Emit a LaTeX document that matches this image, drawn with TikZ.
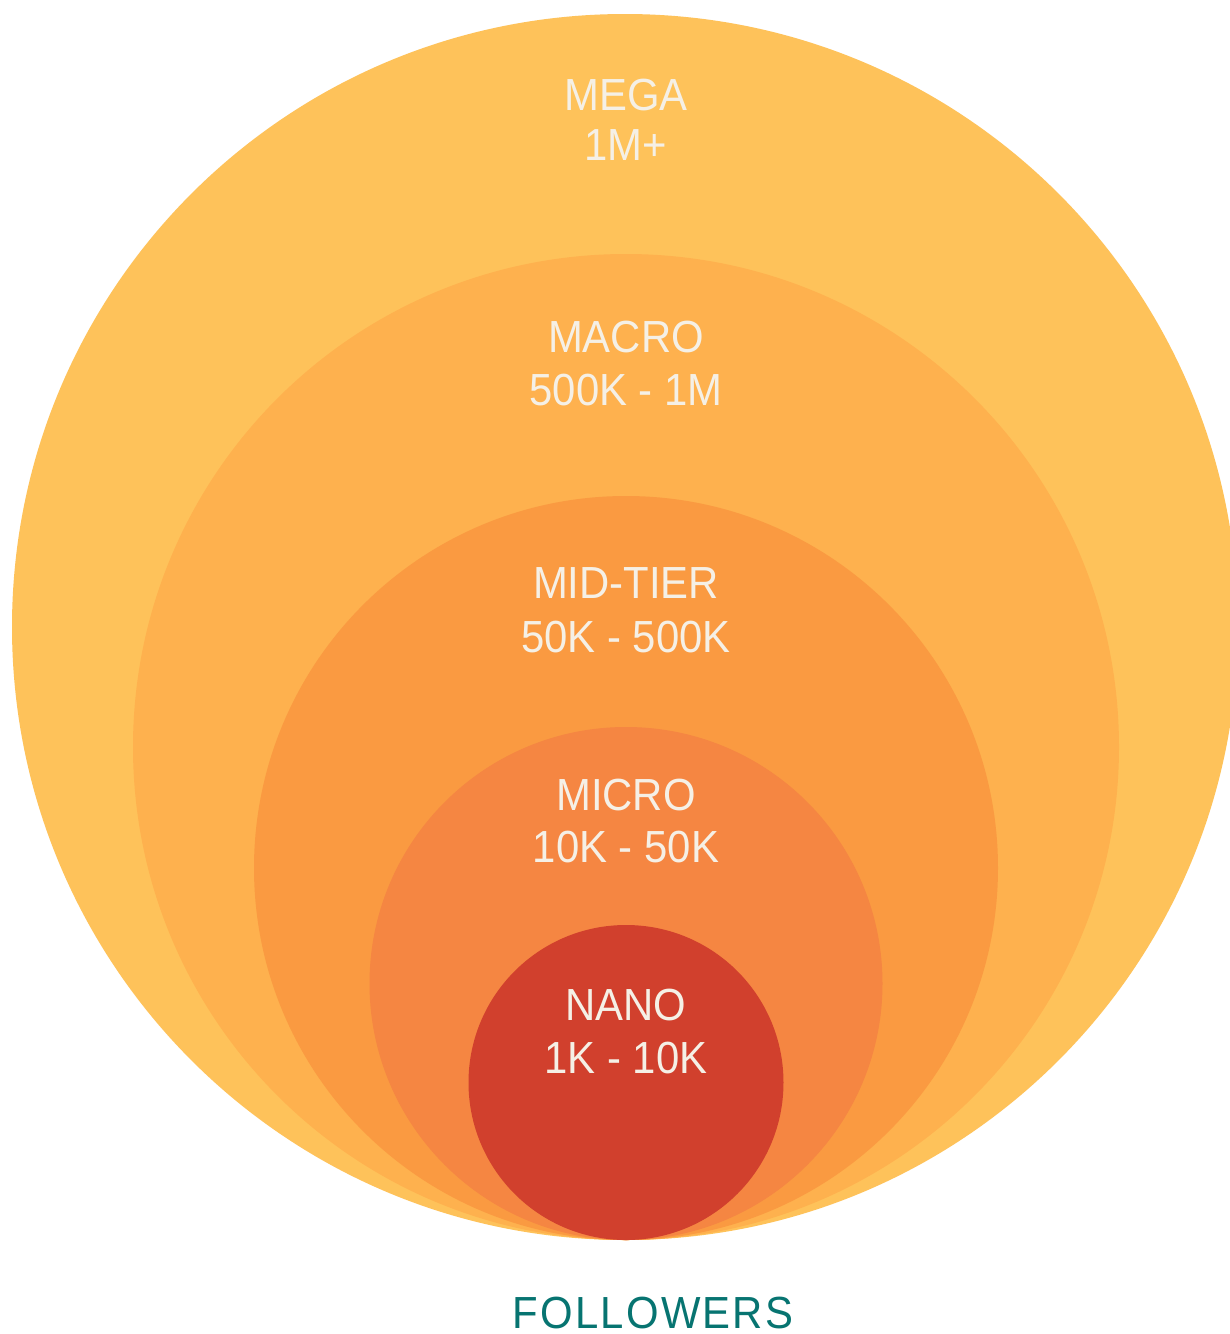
\documentclass[tikz,border=0pt]{standalone}
\usepackage{fontspec}
\setmainfont{Liberation Sans}[FakeStretch=0.93]
\definecolor{cmega}{HTML}{FEC25A}
\definecolor{cmacro}{HTML}{FEB14E}
\definecolor{cmid}{HTML}{FA9A41}
\definecolor{cmicro}{HTML}{F58642}
\definecolor{cnano}{HTML}{D1402D}
\definecolor{ctext}{HTML}{F5F0E6}
\definecolor{cteal}{HTML}{077471}
\tikzset{
  lbl/.style={anchor=base, inner sep=0pt, text=ctext, font=\fontsize{45}{52}\selectfont},
  foll/.style={anchor=base, inner sep=0pt, text depth=0pt, text=cteal, font=\fontsize{45}{52}\selectfont\addfontfeature{LetterSpace=5}}
}
\begin{document}
\begin{tikzpicture}[x=1pt,y=-1pt]
\useasboundingbox (0,0) rectangle (1230,1334);
\clip (0,0) rectangle (1230,1334);
\fill[white] (0,0) rectangle (1230,1334);
\fill[cmega]  (625,627)  circle[radius=613pt];
\fill[cmacro] (626,747)  circle[radius=493pt];
\fill[cmid]   (626,868)  circle[radius=372pt];
\fill[cmicro] (626,983.5) circle[radius=256.5pt];
\fill[cnano]  (626,1082.5) circle[radius=157.5pt];
\node[lbl] (mega1) at (626,110) {MEGA};
\node[lbl] (mega2) at (626,160) {1M+};
\node[lbl] (macro1) at (626,352) {MACRO};
\node[lbl] (macro2) at (626,405) {500K - 1M};
\node[lbl] (mid1) at (626,598) {MID-TIER};
\node[lbl] (mid2) at (626,652) {50K - 500K};
\node[lbl] (micro1) at (626,810) {MICRO};
\node[lbl] (micro2) at (626,862) {10K - 50K};
\node[lbl] (nano1) at (626,1020) {NANO};
\node[lbl] (nano2) at (626,1073) {1K - 10K};
\node[foll] (foll) at (653,1328) {FOLLOWERS};
\end{tikzpicture}
\end{document}
